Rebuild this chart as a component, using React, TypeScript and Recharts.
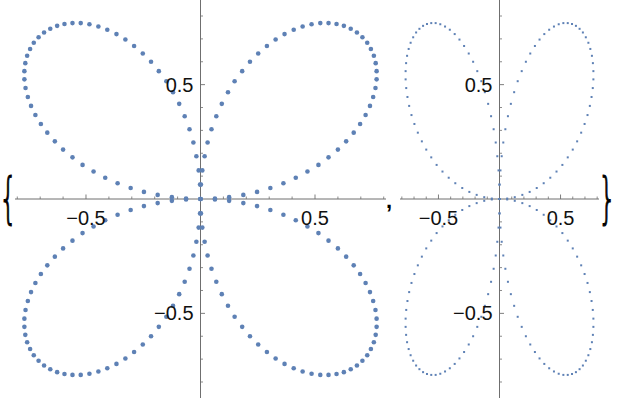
import { ScatterChart, Scatter, XAxis, YAxis, ReferenceLine, ReferenceDot } from 'recharts'

// four petals of the rose (same points in both panels)
const petalNE: [number, number][] = [
  [0, 0], [0.063, 0.002], [0.125, 0.008], [0.187, 0.018], [0.247, 0.031], [0.305, 0.048],
  [0.362, 0.069], [0.416, 0.093], [0.467, 0.12], [0.515, 0.149], [0.559, 0.182], [0.6, 0.216],
  [0.636, 0.252], [0.669, 0.29], [0.697, 0.328], [0.721, 0.367], [0.74, 0.407], [0.754, 0.446],
  [0.764, 0.485], [0.769, 0.523], [0.769, 0.559], [0.765, 0.594], [0.757, 0.626], [0.744, 0.656],
  [0.728, 0.683], [0.707, 0.707], [0.683, 0.728], [0.656, 0.744], [0.626, 0.757], [0.594, 0.765],
  [0.559, 0.769], [0.523, 0.769], [0.485, 0.764], [0.446, 0.754], [0.407, 0.74], [0.367, 0.721],
  [0.328, 0.697], [0.29, 0.669], [0.252, 0.636], [0.216, 0.6], [0.182, 0.559], [0.149, 0.515],
  [0.12, 0.467], [0.093, 0.416], [0.069, 0.362], [0.048, 0.305], [0.031, 0.247], [0.018, 0.187],
  [0.008, 0.125], [0.002, 0.063],
]
const petalSE: [number, number][] = [
  [0, 0], [0.002, -0.063], [0.008, -0.125], [0.018, -0.187], [0.031, -0.247], [0.048, -0.305],
  [0.069, -0.362], [0.093, -0.416], [0.12, -0.467], [0.149, -0.515], [0.182, -0.559], [0.216, -0.6],
  [0.252, -0.636], [0.29, -0.669], [0.328, -0.697], [0.367, -0.721], [0.407, -0.74], [0.446, -0.754],
  [0.485, -0.764], [0.523, -0.769], [0.559, -0.769], [0.594, -0.765], [0.626, -0.757], [0.656, -0.744],
  [0.683, -0.728], [0.707, -0.707], [0.728, -0.683], [0.744, -0.656], [0.757, -0.626], [0.765, -0.594],
  [0.769, -0.559], [0.769, -0.523], [0.764, -0.485], [0.754, -0.446], [0.74, -0.407], [0.721, -0.367],
  [0.697, -0.328], [0.669, -0.29], [0.636, -0.252], [0.6, -0.216], [0.559, -0.182], [0.515, -0.149],
  [0.467, -0.12], [0.416, -0.093], [0.362, -0.069], [0.305, -0.048], [0.247, -0.031], [0.187, -0.018],
  [0.125, -0.008], [0.063, -0.002],
]
const petalSW: [number, number][] = [
  [0, 0], [-0.063, -0.002], [-0.125, -0.008], [-0.187, -0.018], [-0.247, -0.031], [-0.305, -0.048],
  [-0.362, -0.069], [-0.416, -0.093], [-0.467, -0.12], [-0.515, -0.149], [-0.559, -0.182], [-0.6, -0.216],
  [-0.636, -0.252], [-0.669, -0.29], [-0.697, -0.328], [-0.721, -0.367], [-0.74, -0.407], [-0.754, -0.446],
  [-0.764, -0.485], [-0.769, -0.523], [-0.769, -0.559], [-0.765, -0.594], [-0.757, -0.626], [-0.744, -0.656],
  [-0.728, -0.683], [-0.707, -0.707], [-0.683, -0.728], [-0.656, -0.744], [-0.626, -0.757], [-0.594, -0.765],
  [-0.559, -0.769], [-0.523, -0.769], [-0.485, -0.764], [-0.446, -0.754], [-0.407, -0.74], [-0.367, -0.721],
  [-0.328, -0.697], [-0.29, -0.669], [-0.252, -0.636], [-0.216, -0.6], [-0.182, -0.559], [-0.149, -0.515],
  [-0.12, -0.467], [-0.093, -0.416], [-0.069, -0.362], [-0.048, -0.305], [-0.031, -0.247], [-0.018, -0.187],
  [-0.008, -0.125], [-0.002, -0.063],
]
const petalNW: [number, number][] = [
  [0, 0], [-0.002, 0.063], [-0.008, 0.125], [-0.018, 0.187], [-0.031, 0.247], [-0.048, 0.305],
  [-0.069, 0.362], [-0.093, 0.416], [-0.12, 0.467], [-0.149, 0.515], [-0.182, 0.559], [-0.216, 0.6],
  [-0.252, 0.636], [-0.29, 0.669], [-0.328, 0.697], [-0.367, 0.721], [-0.407, 0.74], [-0.446, 0.754],
  [-0.485, 0.764], [-0.523, 0.769], [-0.559, 0.769], [-0.594, 0.765], [-0.626, 0.757], [-0.656, 0.744],
  [-0.683, 0.728], [-0.707, 0.707], [-0.728, 0.683], [-0.744, 0.656], [-0.757, 0.626], [-0.765, 0.594],
  [-0.769, 0.559], [-0.769, 0.523], [-0.764, 0.485], [-0.754, 0.446], [-0.74, 0.407], [-0.721, 0.367],
  [-0.697, 0.328], [-0.669, 0.29], [-0.636, 0.252], [-0.6, 0.216], [-0.559, 0.182], [-0.515, 0.149],
  [-0.467, 0.12], [-0.416, 0.093], [-0.362, 0.069], [-0.305, 0.048], [-0.247, 0.031], [-0.187, 0.018],
  [-0.125, 0.008], [-0.063, 0.002],
]

const minorTicks = [-0.8, -0.7, -0.6, -0.4, -0.3, -0.2, -0.1, 0.1, 0.2, 0.3, 0.4, 0.6, 0.7, 0.8]
const majorTicks = [-0.5, 0.5]
const majorLabels = ['\u22120.5', '0.5']

const points = [...petalNE, ...petalSE, ...petalSW, ...petalNW].map(([x, y]) => ({ x, y }))

const AXIS = '#6f6f6f'
const DOT = '#5e81b5'
const FONT = 'Liberation Sans, Arial, sans-serif'
const H = 402
const Y_HALF = 0.87

type PlotProps = {
  width: number
  margin: { top: number; right: number; bottom: number; left: number }
  xHalf: number
  shape: (p: any) => any
}

function RosePlot({ width, margin, xHalf, shape }: PlotProps) {
  const plotW = width - margin.left - margin.right
  const plotH = H - margin.top - margin.bottom
  // tick lengths in data units (px / px-per-unit)
  const ux = (2 * xHalf) / plotW
  const uy = (2 * Y_HALF) / plotH
  const labelStyle = { fill: '#111', fontSize: 20, fontFamily: FONT }

  return (
    <ScatterChart width={width} height={H} margin={margin}>
      <XAxis type="number" dataKey="x" domain={[-xHalf, xHalf]} allowDataOverflow hide />
      <YAxis type="number" dataKey="y" domain={[-Y_HALF, Y_HALF]} allowDataOverflow hide />
      <ReferenceLine x={0} stroke={AXIS} strokeWidth={1} />
      <ReferenceLine y={0} stroke={AXIS} strokeWidth={1} />
      {minorTicks.map((t) => (
        <ReferenceLine key={'mx' + t} segment={[{ x: t, y: 0 }, { x: t, y: 2.5 * uy }]} stroke={AXIS} strokeWidth={0.8} />
      ))}
      {minorTicks.map((t) => (
        <ReferenceLine key={'my' + t} segment={[{ x: 0, y: t }, { x: 2.5 * ux, y: t }]} stroke={AXIS} strokeWidth={0.8} />
      ))}
      {majorTicks.map((t) => (
        <ReferenceLine key={'Mx' + t} segment={[{ x: t, y: 0 }, { x: t, y: 4.5 * uy }]} stroke={AXIS} strokeWidth={0.9} />
      ))}
      {majorTicks.map((t) => (
        <ReferenceLine key={'My' + t} segment={[{ x: 0, y: t }, { x: 4.5 * ux, y: t }]} stroke={AXIS} strokeWidth={0.9} />
      ))}
      {majorTicks.map((t, i) => (
        <ReferenceDot key={'lx' + t} x={t} y={0} r={0} stroke="none" fill="none"
          label={{ value: majorLabels[i], position: 'bottom', offset: 12, ...labelStyle }} />
      ))}
      {majorTicks.map((t, i) => (
        <ReferenceDot key={'ly' + t} x={0} y={t} r={0} stroke="none" fill="none"
          label={{ value: majorLabels[i], position: 'left', offset: 7, ...labelStyle }} />
      ))}
      <Scatter data={points} shape={shape} isAnimationActive={false} />
    </ScatterChart>
  )
}

const bigDot = (p: any) => <circle cx={p.cx} cy={p.cy} r={2.3} fill={DOT} />
const smallDot = (p: any) => <rect x={p.cx - 1} y={p.cy - 1} width={2} height={2} fill={DOT} />

const BRACE_FONT = 'DejaVu Sans, Liberation Sans, sans-serif'

export default function App() {
  return (
    <div style={{ position: 'absolute', left: 0, top: 0, width: 617, height: H, background: '#fff' }}>
      <div style={{ position: 'absolute', left: 0, top: 0 }}>
        <RosePlot width={393} margin={{ top: 0, right: 7, bottom: 4, left: 15 }} xHalf={0.81} shape={bigDot} />
      </div>
      <div style={{ position: 'absolute', left: 393, top: 0 }}>
        <RosePlot width={224} margin={{ top: 0, right: 18, bottom: 4, left: 7 }} xHalf={0.815} shape={smallDot} />
      </div>
      <svg width={617} height={H} style={{ position: 'absolute', left: 0, top: 0, pointerEvents: 'none' }}>
        <text transform="translate(-1,217) scale(0.85,1.62)" fontFamily={BRACE_FONT} fontWeight={200} fontSize={34}
          fill="#000" stroke="#000" strokeWidth={0.7}>{'{'}</text>
        <text x={386} y={208} fontFamily={FONT} fontSize={22} fontWeight="bold" fill="#000">,</text>
        <text transform="translate(598,217) scale(0.85,1.62)" fontFamily={BRACE_FONT} fontWeight={200} fontSize={34}
          fill="#000" stroke="#000" strokeWidth={0.7}>{'}'}</text>
      </svg>
    </div>
  )
}
